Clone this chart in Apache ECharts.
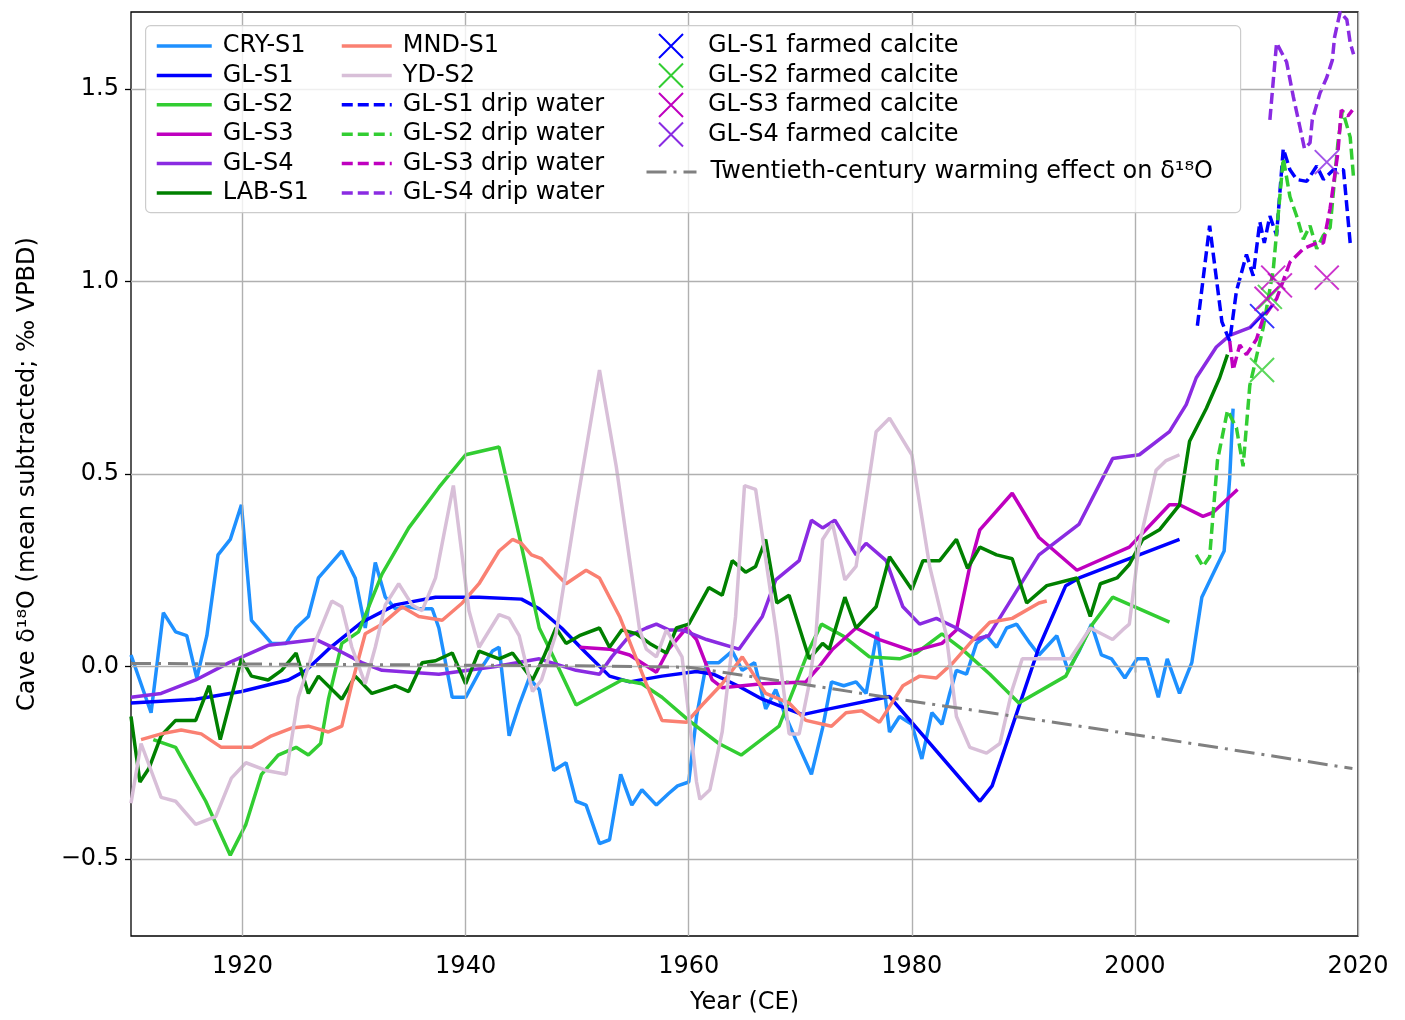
<!DOCTYPE html>
<html>
<head>
<meta charset="utf-8">
<script src="https://cdn.jsdelivr.net/npm/echarts@6/dist/echarts.min.js"></script>
<style>
html,body{margin:0;padding:0;background:#fff;}
#chart{width:1405px;height:1020px;}
</style>
</head>
<body>
<div id="chart"></div>
<script>
// ---------- data (year, value) ----------
const xTicks = [1920, 1940, 1960, 1980, 2000, 2020];
const yTicks = [-0.5, 0.0, 0.5, 1.0, 1.5];

const cryS1 = [[1910.0,0.03],[1911.8,-0.12],[1912.9,0.14],[1914.0,0.09],[1915.0,0.08],[1915.9,-0.03],[1916.8,0.08],[1917.8,0.29],[1918.9,0.33],[1919.9,0.42],[1920.8,0.12],[1921.7,0.09],[1922.6,0.06],[1923.9,0.06],[1924.8,0.10],[1925.9,0.13],[1926.8,0.23],[1927.7,0.26],[1928.9,0.30],[1930.1,0.23],[1931.0,0.10],[1931.9,0.27],[1932.8,0.18],[1933.7,0.15],[1934.9,0.155],[1935.8,0.15],[1937.0,0.15],[1937.6,0.10],[1938.8,-0.08],[1940.0,-0.08],[1941.5,0.0],[1942.4,0.04],[1943.0,0.05],[1943.9,-0.18],[1944.8,-0.10],[1945.7,-0.03],[1946.6,-0.06],[1947.9,-0.27],[1949.0,-0.25],[1949.9,-0.35],[1950.8,-0.36],[1952.0,-0.46],[1952.9,-0.45],[1953.9,-0.28],[1954.9,-0.36],[1955.8,-0.32],[1957.1,-0.36],[1958.2,-0.33],[1959.0,-0.31],[1960.0,-0.30],[1960.7,-0.13],[1961.6,0.01],[1962.7,0.01],[1963.9,0.04],[1964.8,-0.01],[1965.9,0.01],[1966.9,-0.11],[1967.8,-0.06],[1968.7,-0.13],[1969.6,-0.19],[1971.0,-0.28],[1972.0,-0.16],[1972.8,-0.04],[1973.9,-0.05],[1975.0,-0.04],[1975.9,-0.07],[1976.9,0.09],[1978.0,-0.17],[1978.9,-0.13],[1980.0,-0.15],[1980.9,-0.24],[1981.8,-0.12],[1982.7,-0.15],[1983.4,-0.07],[1984.0,-0.01],[1984.9,-0.02],[1985.8,0.06],[1986.7,0.08],[1987.6,0.05],[1988.5,0.10],[1989.4,0.11],[1990.6,0.06],[1991.4,0.03],[1993.0,0.08],[1994.0,-0.01],[1995.0,0.04],[1996.1,0.11],[1997.0,0.03],[1997.9,0.02],[1999.1,-0.03],[2000.2,0.02],[2001.1,0.02],[2002.1,-0.08],[2002.9,0.02],[2004.0,-0.07],[2005.1,0.01],[2006.0,0.18],[2007.0,0.24],[2008.0,0.30],[2008.5,0.49],[2008.8,0.67]];

const glS1 = [[1910.0,-0.095],[1915.8,-0.085],[1919.9,-0.065],[1924.1,-0.035],[1925.7,-0.01],[1927.7,0.045],[1930.7,0.115],[1933.7,0.16],[1937.3,0.18],[1941.2,0.18],[1945.0,0.175],[1946.6,0.15],[1948.6,0.10],[1950.8,0.035],[1952.9,-0.025],[1954.7,-0.04],[1957.6,-0.025],[1960.7,-0.013],[1962.2,-0.02],[1964.4,-0.05],[1966.6,-0.085],[1970.2,-0.125],[1972.6,-0.11],[1978.0,-0.078],[1986.1,-0.35],[1987.2,-0.31],[1991.4,0.05],[1993.8,0.21],[1995.0,0.23],[1999.5,0.28],[2004.0,0.33]];

const glS2 = [[1912.0,-0.19],[1914.0,-0.21],[1916.7,-0.35],[1918.9,-0.49],[1920.3,-0.41],[1921.7,-0.28],[1923.2,-0.23],[1924.8,-0.21],[1925.9,-0.23],[1927.0,-0.20],[1927.7,-0.085],[1928.9,0.06],[1930.4,0.09],[1932.5,0.24],[1934.9,0.36],[1937.6,0.465],[1940.0,0.55],[1943.0,0.57],[1944.8,0.34],[1946.6,0.10],[1947.7,0.035],[1949.9,-0.10],[1954.0,-0.035],[1955.8,-0.045],[1957.6,-0.08],[1960.0,-0.14],[1962.7,-0.20],[1964.7,-0.23],[1968.1,-0.155],[1969.6,-0.045],[1970.8,0.045],[1971.9,0.11],[1973.8,0.08],[1976.2,0.025],[1978.9,0.02],[1980.4,0.035],[1982.7,0.085],[1984.5,0.045],[1987.0,-0.02],[1989.6,-0.095],[1993.8,-0.025],[1996.2,0.11],[1998.0,0.18],[2003.1,0.115]];

const glS3 = [[1950.2,0.05],[1952.9,0.045],[1954.7,0.03],[1957.1,-0.015],[1958.2,0.045],[1959.8,0.10],[1960.7,0.07],[1962.1,-0.035],[1963.0,-0.055],[1966.6,-0.045],[1970.5,-0.04],[1971.7,0.0],[1972.9,0.045],[1975.0,0.10],[1977.1,0.07],[1980.1,0.04],[1982.7,0.06],[1984.0,0.095],[1985.2,0.26],[1986.1,0.355],[1989.0,0.45],[1991.4,0.335],[1994.8,0.25],[1999.5,0.31],[2003.1,0.42],[2004.0,0.42],[2006.1,0.39],[2007.0,0.40],[2009.2,0.46]];

const glS4 = [[1910.0,-0.08],[1912.7,-0.07],[1915.8,-0.035],[1918.8,0.01],[1922.3,0.055],[1926.6,0.07],[1928.4,0.045],[1930.7,0.01],[1932.5,-0.01],[1937.6,-0.02],[1942.7,0.0],[1946.6,0.02],[1949.9,-0.01],[1952.0,-0.02],[1953.1,0.025],[1954.7,0.08],[1956.2,0.10],[1957.1,0.11],[1958.2,0.095],[1959.4,0.095],[1961.6,0.07],[1964.5,0.045],[1966.6,0.13],[1967.8,0.225],[1969.9,0.275],[1971.0,0.38],[1972.0,0.36],[1973.1,0.38],[1975.0,0.29],[1975.9,0.32],[1977.7,0.275],[1979.2,0.155],[1980.7,0.11],[1982.2,0.125],[1984.0,0.10],[1985.6,0.07],[1986.9,0.08],[1991.4,0.29],[1995.0,0.37],[1998.0,0.54],[2000.4,0.55],[2003.1,0.61],[2004.6,0.68],[2005.5,0.75],[2007.3,0.83],[2008.5,0.86],[2010.3,0.88],[2011.6,0.92]];

const labS1 = [[1910.0,-0.13],[1910.8,-0.30],[1911.6,-0.265],[1912.7,-0.18],[1914.0,-0.14],[1915.8,-0.14],[1917.0,-0.05],[1918.0,-0.19],[1919.9,0.02],[1920.8,-0.025],[1922.3,-0.035],[1923.5,-0.01],[1924.8,0.035],[1925.9,-0.07],[1926.8,-0.025],[1928.9,-0.085],[1930.1,-0.025],[1931.6,-0.07],[1933.7,-0.05],[1934.9,-0.065],[1936.1,0.01],[1937.3,0.015],[1938.8,0.035],[1940.0,-0.045],[1941.2,0.04],[1943.0,0.02],[1944.2,0.035],[1946.0,-0.035],[1947.0,0.025],[1948.1,0.10],[1949.0,0.06],[1950.2,0.08],[1952.0,0.10],[1952.9,0.05],[1954.0,0.095],[1955.3,0.085],[1956.5,0.06],[1958.0,0.035],[1958.9,0.10],[1960.0,0.11],[1961.8,0.205],[1963.0,0.185],[1963.9,0.275],[1965.1,0.245],[1966.0,0.26],[1966.9,0.33],[1967.9,0.165],[1969.0,0.185],[1970.8,0.02],[1972.0,0.06],[1972.6,0.045],[1974.0,0.18],[1975.0,0.10],[1976.8,0.155],[1978.0,0.285],[1980.0,0.20],[1981.0,0.275],[1982.5,0.275],[1984.0,0.33],[1985.0,0.255],[1986.1,0.31],[1987.6,0.29],[1989.0,0.28],[1990.3,0.165],[1992.1,0.21],[1994.8,0.23],[1996.0,0.13],[1996.9,0.215],[1998.4,0.23],[1999.5,0.265],[2000.7,0.33],[2002.2,0.355],[2004.0,0.42],[2004.9,0.585],[2006.4,0.67],[2007.6,0.75],[2008.3,0.81]];

const mndS1 = [[1910.9,-0.19],[1912.7,-0.175],[1914.5,-0.165],[1916.3,-0.175],[1918.1,-0.21],[1920.8,-0.21],[1922.6,-0.18],[1924.4,-0.16],[1925.9,-0.155],[1927.7,-0.17],[1928.9,-0.155],[1929.8,-0.045],[1931.0,0.085],[1932.5,0.11],[1934.3,0.155],[1935.8,0.13],[1937.9,0.12],[1939.7,0.165],[1941.2,0.215],[1943.0,0.30],[1944.2,0.33],[1945.0,0.32],[1945.9,0.29],[1946.8,0.28],[1949.0,0.215],[1950.8,0.25],[1952.0,0.23],[1953.8,0.13],[1956.2,-0.045],[1957.6,-0.14],[1959.8,-0.145],[1961.2,-0.10],[1963.0,-0.045],[1964.8,0.025],[1966.9,-0.07],[1969.0,-0.095],[1970.5,-0.14],[1972.8,-0.155],[1974.1,-0.12],[1975.5,-0.115],[1977.1,-0.145],[1979.2,-0.05],[1980.7,-0.025],[1982.2,-0.03],[1983.7,0.01],[1985.5,0.07],[1987.0,0.115],[1989.0,0.125],[1991.4,0.165],[1992.1,0.17]];

const ydS2 = [[1910.0,-0.355],[1910.9,-0.20],[1912.7,-0.34],[1914.0,-0.35],[1915.8,-0.41],[1917.6,-0.39],[1919.0,-0.29],[1920.3,-0.25],[1922.1,-0.27],[1923.9,-0.28],[1925.0,-0.08],[1925.9,0.0],[1926.6,0.07],[1928.0,0.17],[1928.9,0.155],[1929.8,0.05],[1931.0,-0.045],[1931.9,0.05],[1932.8,0.16],[1934.0,0.215],[1935.2,0.16],[1936.1,0.145],[1937.3,0.23],[1938.9,0.47],[1940.3,0.145],[1941.2,0.05],[1943.0,0.135],[1943.9,0.125],[1944.8,0.08],[1946.0,-0.065],[1946.8,-0.035],[1948.1,0.085],[1949.9,0.41],[1952.0,0.77],[1953.5,0.52],[1955.6,0.095],[1956.2,0.045],[1957.1,0.025],[1958.0,0.095],[1959.4,0.025],[1960.7,-0.30],[1961.0,-0.345],[1961.9,-0.32],[1963.0,-0.17],[1964.2,0.13],[1965.0,0.47],[1966.0,0.46],[1967.9,0.08],[1969.0,-0.175],[1969.9,-0.175],[1970.8,-0.045],[1971.4,0.08],[1972.0,0.33],[1972.9,0.37],[1974.0,0.225],[1975.0,0.26],[1976.8,0.61],[1978.0,0.645],[1980.0,0.55],[1981.6,0.26],[1983.1,0.08],[1984.0,-0.13],[1985.2,-0.21],[1986.7,-0.225],[1987.9,-0.20],[1989.0,-0.06],[1989.9,0.02],[1994.2,0.02],[1996.0,0.10],[1998.0,0.07],[1998.9,0.095],[1999.5,0.11],[2000.4,0.32],[2001.9,0.51],[2002.8,0.535],[2004.0,0.55]];

const glS1Drip = [[2005.6,0.885],[2006.7,1.145],[2007.8,0.895],[2008.5,0.845],[2009.1,0.975],[2010.0,1.07],[2010.6,1.015],[2011.2,1.155],[2011.6,1.10],[2012.1,1.17],[2012.7,1.12],[2013.3,1.345],[2013.9,1.29],[2014.5,1.265],[2015.4,1.26],[2016.3,1.30],[2016.9,1.265],[2017.8,1.29],[2018.7,1.29],[2019.3,1.10]];

const glS2Drip = [[2005.5,0.29],[2006.1,0.26],[2006.7,0.285],[2007.4,0.535],[2008.3,0.665],[2009.1,0.62],[2009.7,0.52],[2010.3,0.73],[2011.5,0.88],[2012.4,1.03],[2013.3,1.32],[2013.9,1.22],[2014.5,1.17],[2015.1,1.11],[2015.7,1.145],[2016.3,1.085],[2016.9,1.12],[2017.5,1.14],[2018.2,1.36],[2018.6,1.445],[2019.3,1.375],[2019.6,1.27]];

const glS3Drip = [[2008.5,0.845],[2008.8,0.77],[2009.4,0.835],[2010.0,0.81],[2010.9,0.85],[2011.5,0.905],[2012.7,0.955],[2013.9,1.05],[2015.1,1.085],[2016.3,1.10],[2016.9,1.10],[2017.5,1.19],[2018.2,1.335],[2018.5,1.445],[2019.1,1.43],[2019.5,1.445]];

const glS4Drip = [[2012.1,1.42],[2012.7,1.62],[2013.6,1.57],[2014.2,1.48],[2014.8,1.40],[2015.2,1.345],[2015.7,1.36],[2015.9,1.42],[2016.6,1.49],[2017.2,1.53],[2017.7,1.575],[2017.9,1.635],[2018.4,1.70],[2019.0,1.68],[2019.3,1.62],[2019.6,1.59]];

const glS1Farmed = [[2011.4,0.91]];
const glS2Farmed = [[2011.4,0.77],[2012.1,0.96]];
const glS3Farmed = [[2011.8,0.955],[2012.4,1.01],[2013.0,0.99],[2017.2,1.01]];
const glS4Farmed = [[2017.2,1.31]];

const warming = [[1910,0.008],[1930,0.005],[1950,0.002],[1960,-0.002],[1970,-0.045],[1980,-0.09],[1990,-0.133],[2000,-0.177],[2010,-0.222],[2019.5,-0.265]];

// ---------- chart ----------
const FONT = 'DejaVu Sans';
const FS = 24;
const chart = echarts.init(document.getElementById('chart'), null, {renderer: 'canvas'});

function lineSeries(name, data, color, dashed) {
  return {
    name: name, type: 'line', data: data, showSymbol: false, symbol: 'none',
    lineStyle: {color: color, width: 3.5, type: dashed ? [11, 5] : 'solid'},
    itemStyle: {color: color}, z: 3, animation: false, silent: true
  };
}
const XPATH = 'path://M0,0L10,10M10,0L0,10';
function farmedSeries(name, data, color) {
  return {
    name: name, type: 'scatter', data: data, symbol: XPATH, symbolSize: 24,
    itemStyle: {color: 'rgba(0,0,0,0)', borderColor: color, borderWidth: 2},
    z: 4, animation: false, silent: true
  };
}

const C = {
  cry: '#1e90ff', gl1: '#0000ff', gl2: '#32cd32', gl3: '#bf00bf',
  gl4: '#8a2be2', lab: '#008000', mnd: '#fa8072', yd: '#d8bfd8'
};

const gridMarks = [];
yTicks.forEach(v => gridMarks.push({yAxis: v}));
xTicks.forEach(v => gridMarks.push({xAxis: v}));

const series = [
  {
    name: '_grid', type: 'line', data: [], z: 1, silent: true, animation: false,
    markLine: {
      silent: true, symbol: ['none', 'none'], animation: false,
      label: {show: false},
      lineStyle: {color: '#b0b0b0', width: 1.4, type: 'solid'},
      data: gridMarks
    }
  },
  lineSeries('CRY-S1', cryS1, C.cry),
  lineSeries('GL-S1', glS1, C.gl1),
  lineSeries('GL-S2', glS2, C.gl2),
  lineSeries('GL-S3', glS3, C.gl3),
  lineSeries('GL-S4', glS4, C.gl4),
  lineSeries('LAB-S1', labS1, C.lab),
  lineSeries('MND-S1', mndS1, C.mnd),
  lineSeries('YD-S2', ydS2, C.yd),
  lineSeries('GL-S1 drip water', glS1Drip, C.gl1, true),
  lineSeries('GL-S2 drip water', glS2Drip, C.gl2, true),
  lineSeries('GL-S3 drip water', glS3Drip, C.gl3, true),
  lineSeries('GL-S4 drip water', glS4Drip, C.gl4, true),
  farmedSeries('GL-S1 farmed calcite', glS1Farmed, C.gl1),
  farmedSeries('GL-S2 farmed calcite', glS2Farmed, C.gl2),
  farmedSeries('GL-S3 farmed calcite', glS3Farmed, C.gl3),
  farmedSeries('GL-S4 farmed calcite', glS4Farmed, C.gl4),
  {
    name: 'Twentieth-century warming effect on δ¹⁸O', type: 'line', data: warming,
    showSymbol: false, symbol: 'none', z: 5, animation: false, silent: true,
    lineStyle: {color: '#808080', width: 3, type: [20, 7, 3, 7]},
    itemStyle: {color: '#808080'}
  }
];

const legendText = {fontSize: FS, fontFamily: FONT, color: '#000', lineHeight: 22};
function farmedLegendItem(name, color) {
  return {name: name, icon: XPATH, itemStyle: {opacity: 1, color: 'rgba(0,0,0,0)', borderColor: color, borderWidth: 2}};
}

const option = {
  backgroundColor: '#fff',
  animation: false,
  grid: {left: 131, width: 1227, top: 12, height: 928, show: true, borderColor: '#000', borderWidth: 1.3, backgroundColor: '#fff'},
  xAxis: {
    type: 'value', min: 1910, max: 2020,
    name: 'Year (CE)', nameLocation: 'middle', nameGap: 55,
    nameTextStyle: {fontSize: FS, fontFamily: FONT, color: '#000'},
    axisLine: {show: false},
    axisTick: {show: true, length: 6, lineStyle: {color: '#000', width: 1.3}, customValues: xTicks},
    axisLabel: {fontSize: FS, fontFamily: FONT, color: '#000', margin: 19, customValues: xTicks, formatter: v => String(v)},
    splitLine: {show: false}
  },
  yAxis: {
    type: 'value', min: -0.7, max: 1.7,
    name: 'Cave δ¹⁸O (mean subtracted; ‰ VPBD)', nameLocation: 'middle', nameGap: 91,
    nameTextStyle: {fontSize: FS, fontFamily: FONT, color: '#000'},
    axisLine: {show: false},
    axisTick: {show: true, length: 6, lineStyle: {color: '#000', width: 1.3}, customValues: yTicks},
    axisLabel: {fontSize: FS, fontFamily: FONT, color: '#000', margin: 12, customValues: yTicks,
      formatter: v => (v < 0 ? '\u2212' + Math.abs(v).toFixed(1) : v.toFixed(1))},
    splitLine: {show: false}
  },
  graphic: {
    elements: [{
      type: 'rect', left: 145, top: 25, z: 10, silent: true,
      shape: {width: 1095, height: 187, r: 5},
      style: {fill: 'rgba(255,255,255,0.8)', stroke: '#cccccc', lineWidth: 1.2}
    }]
  },
  legend: [
    {
      orient: 'vertical', left: 150, top: 29, itemWidth: 55, itemHeight: 14, itemGap: 5.4,
      itemStyle: {opacity: 0}, lineStyle: {width: 3.5},
      textStyle: Object.assign({padding: [0, 0, 0, 6]}, legendText), z: 20, selectedMode: false,
      data: ['CRY-S1', 'GL-S1', 'GL-S2', 'GL-S3', 'GL-S4', 'LAB-S1']
    },
    {
      orient: 'vertical', left: 335, top: 29, itemWidth: 50, itemHeight: 14, itemGap: 5.4,
      itemStyle: {opacity: 0}, lineStyle: {width: 3.5},
      textStyle: Object.assign({padding: [0, 0, 0, 6]}, legendText), z: 20, selectedMode: false,
      data: ['MND-S1', 'YD-S2', 'GL-S1 drip water', 'GL-S2 drip water', 'GL-S3 drip water', 'GL-S4 drip water']
    },
    {
      orient: 'vertical', left: 653, top: 28, itemWidth: 24, itemHeight: 28, itemGap: 3.5,
      textStyle: Object.assign({padding: [0, 0, 0, 20]}, legendText), z: 20, selectedMode: false,
      data: [
        farmedLegendItem('GL-S1 farmed calcite', C.gl1),
        farmedLegendItem('GL-S2 farmed calcite', C.gl2),
        farmedLegendItem('GL-S3 farmed calcite', C.gl3),
        farmedLegendItem('GL-S4 farmed calcite', C.gl4)
      ]
    },
    {
      orient: 'vertical', left: 640, top: 155, itemWidth: 50, itemHeight: 14,
      itemStyle: {opacity: 0}, lineStyle: {width: 3},
      textStyle: Object.assign({padding: [0, 0, 0, 9]}, legendText), z: 20, selectedMode: false,
      data: ['Twentieth-century warming effect on δ¹⁸O']
    }
  ],
  series: series
};
chart.setOption(option);
</script>
</body>
</html>
